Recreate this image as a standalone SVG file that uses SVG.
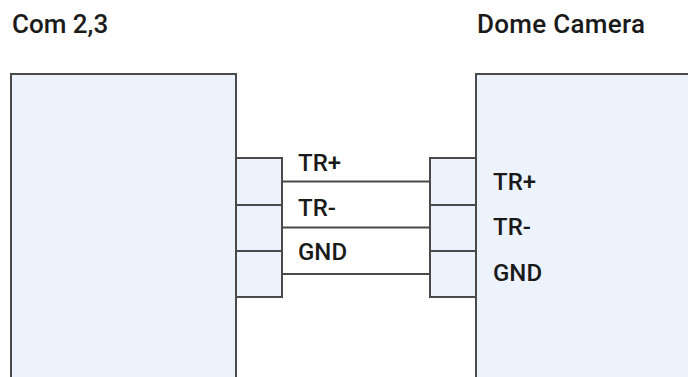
<svg xmlns="http://www.w3.org/2000/svg" width="688" height="377" viewBox="0 0 688 377">
<style>
.box{fill:#ecf3fd;stroke:#4a4a4a;stroke-width:2}
.pin{fill:#ecf3fd;stroke:#4a4a4a;stroke-width:2}
.wire{stroke:#4a4a4a;stroke-width:2;fill:none}
.t{font-family:"Roboto","Liberation Sans",sans-serif;font-weight:500;fill:#1a1a1a}
.title{font-size:26px}
.lbl{font-size:24px}
</style>
<rect width="688" height="377" fill="#ffffff"/>
<g id="com">
<path class="box" d="M11,380 V74 H236 V380"/>
<text class="t title" x="12" y="33">Com 2,3</text>
</g>
<g id="com-pins">
<rect class="pin" x="236" y="158" width="46" height="139"/>
<line class="wire" x1="236" y1="205" x2="282" y2="205"/>
<line class="wire" x1="236" y1="251" x2="282" y2="251"/>
</g>
<g id="camera">
<path class="box" d="M690,74 H476 V380 H690"/>
<text class="t title" x="477" y="33" textLength="168">Dome Camera</text>
<text class="t lbl" x="493" y="190">TR+</text>
<text class="t lbl" x="493" y="235">TR-</text>
<text class="t lbl" x="493" y="281">GND</text>
</g>
<g id="camera-pins">
<rect class="pin" x="430" y="158" width="46" height="139"/>
<line class="wire" x1="430" y1="205" x2="476" y2="205"/>
<line class="wire" x1="430" y1="251" x2="476" y2="251"/>
</g>
<g id="connectors">
<line class="wire" x1="282" y1="181.5" x2="430" y2="181.5"/>
<line class="wire" x1="282" y1="227.5" x2="430" y2="227.5"/>
<line class="wire" x1="282" y1="274" x2="430" y2="274"/>
<text class="t lbl" x="298" y="171">TR+</text>
<text class="t lbl" x="298" y="216">TR-</text>
<text class="t lbl" x="298" y="260">GND</text>
</g>
</svg>
